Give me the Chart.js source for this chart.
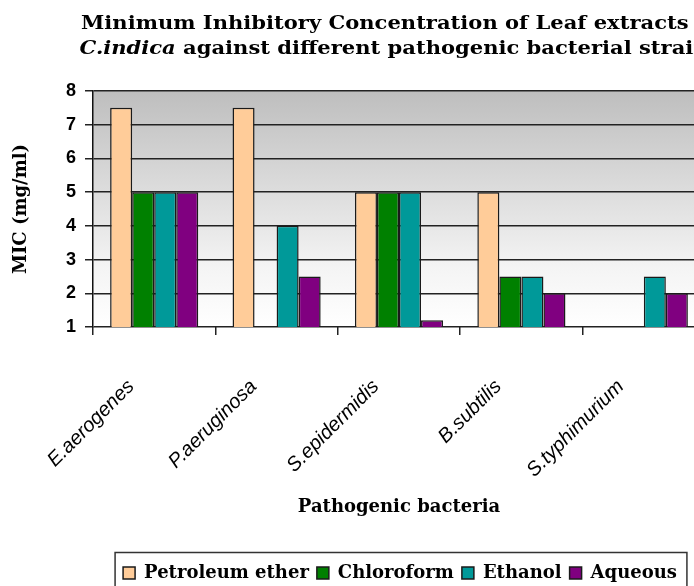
<!DOCTYPE html>
<html>
<head>
<meta charset="utf-8">
<script src="https://cdn.jsdelivr.net/npm/chart.js@4.4.0/dist/chart.umd.min.js"></script>
<style>
  html, body { margin: 0; padding: 0; overflow: hidden; background: #fff; }
  #wrap { width: 800px; height: 592px; position: relative; }
</style>
</head>
<body>
<div id="wrap"><canvas id="myChart"></canvas></div>
<script>
// data
var bacteria = ['E.aerogenes', 'P.aeruginosa', 'S.epidermidis', 'B.subtilis', 'S.typhimurium'];
var petroleumEther = [7.5, 7.5, 5, 5, null];
var chloroform = [5, null, 5, 2.5, null];
var ethanol = [5, 4, 5, 2.5, 2.5];
var aqueous = [5, 2.5, 1.2, 2, 2];
var yTicks = [1, 2, 3, 4, 5, 6, 7, 8];

var serif = '"DejaVu Serif", "Liberation Serif", serif';
var sans = '"Liberation Sans", Arial, sans-serif';
var titleLine1 = 'Minimum Inhibitory Concentration of Leaf extracts of';
var titleItalic = 'C.indica';
var titleRest = ' against different pathogenic bacterial strains';
var titlePadTop = 12;
var titleLineH = 25;
var titleStretch = 1.17;   // the original face (Bookman-like) is wider than DejaVu

// grey-to-white fill behind the plot
var plotBackground = {
    id: 'plotBackground',
    beforeDraw: function (chart) {
        var a = chart.chartArea, ctx = chart.ctx;
        var g = ctx.createLinearGradient(0, a.top, 0, a.bottom);
        g.addColorStop(0, '#bebebe');
        g.addColorStop(0.75, '#f4f4f4');
        g.addColorStop(1, '#ffffff');
        ctx.save();
        ctx.fillStyle = g;
        ctx.fillRect(a.left, a.top, a.right - a.left, a.bottom - a.top);
        ctx.restore();
    }
};

function drawLine(ctx, parts, cx, y) {
    var total = 0;
    parts.forEach(function (p) { ctx.font = p.font; p.w = ctx.measureText(p.text).width; total += p.w; });
    ctx.save();
    ctx.translate(cx, y);
    ctx.scale(titleStretch, 1);
    var x = -total / 2;
    parts.forEach(function (p) { ctx.font = p.font; ctx.fillText(p.text, x, 0); x += p.w; });
    ctx.restore();
}

// visible title (with the italic species name) and a frame round the legend
var extras = {
    id: 'extras',
    afterDraw: function (chart) {
        var ctx = chart.ctx;
        var bold = 'bold 18px ' + serif;
        var boldIt = 'italic bold 18px ' + serif;
        var tb = chart.titleBlock;
        var cx = (tb.left + tb.right) / 2;
        var y0 = tb.top + titlePadTop + titleLineH / 2;
        ctx.save();
        ctx.fillStyle = '#000';
        ctx.textBaseline = 'middle';
        ctx.textAlign = 'left';
        drawLine(ctx, [{ text: titleLine1, font: bold }], cx, y0);
        drawLine(ctx, [{ text: titleItalic, font: boldIt }, { text: titleRest, font: bold }], cx, y0 + titleLineH);

        var boxes = chart.legend.legendHitBoxes;
        var minX = Infinity, maxX = -Infinity;
        boxes.forEach(function (b) {
            minX = Math.min(minX, b.left);
            maxX = Math.max(maxX, b.left + b.width);
        });
        ctx.strokeStyle = '#333';
        ctx.lineWidth = 1.5;
        ctx.strokeRect(minX - 8, chart.legend.top - 3.5, maxX - minX + 18, 60);
        ctx.restore();
    }
};

var ctx = document.getElementById('myChart').getContext('2d');
var myChart = new Chart(ctx, {
    type: 'bar',
    data: {
        labels: bacteria,
        datasets: [{
            label: 'Petroleum ether',
            data: petroleumEther,
            backgroundColor: '#ffcc99'
        }, {
            label: 'Chloroform',
            data: chloroform,
            backgroundColor: '#008000'
        }, {
            label: 'Ethanol',
            data: ethanol,
            backgroundColor: '#009999'
        }, {
            label: 'Aqueous',
            data: aqueous,
            backgroundColor: '#800080'
        }]
    },
    options: {
        responsive: true,
        maintainAspectRatio: false,
        animation: false,
        layout: { padding: 0 },
        datasets: {
            bar: {
                borderColor: '#1a1a1a',
                borderWidth: 1.5,
                categoryPercentage: 0.72,
                barPercentage: 1
            }
        },
        plugins: {
            title: {
                display: true,
                text: [titleLine1, titleItalic + titleRest],
                color: 'rgba(0,0,0,0)',   // painted again by the extras plugin
                font: { family: serif, size: 18, weight: 'bold', lineHeight: titleLineH / 18 },
                padding: { top: titlePadTop, bottom: 29 }
            },
            legend: {
                position: 'bottom',
                labels: {
                    color: '#000',
                    font: { family: serif, size: 18, weight: 'bold' },
                    boxWidth: 12,
                    boxHeight: 12,
                    padding: 8
                }
            },
            tooltip: { enabled: false }
        },
        scales: {
            x: {
                grid: {
                    display: true,
                    drawOnChartArea: false,
                    tickLength: 8,
                    color: '#222',
                    lineWidth: 1.5
                },
                border: { display: false },
                ticks: {
                    color: '#000',
                    font: { family: sans, size: 20, style: 'italic' },
                    minRotation: 45,
                    maxRotation: 45,
                    autoSkip: false,
                    padding: 40,
                    labelOffset: -23
                },
                title: {
                    display: true,
                    text: 'Pathogenic bacteria',
                    color: '#000',
                    font: { family: serif, size: 18, weight: 'bold' },
                    padding: { top: 0, bottom: 38 }
                },
                afterFit: function (scale) { scale.height = 229; }
            },
            y: {
                min: 1,
                max: 8,
                afterBuildTicks: function (scale) {
                    scale.ticks = yTicks.map(function (v) { return { value: v }; });
                },
                grid: {
                    color: '#222',
                    lineWidth: 1.5,
                    tickLength: 8
                },
                border: { display: true, color: '#111', width: 1.5 },
                ticks: {
                    color: '#000',
                    font: { family: sans, size: 18, weight: 'bold' },
                    padding: 9
                },
                title: {
                    display: true,
                    text: 'MIC (mg/ml)',
                    color: '#000',
                    font: { family: serif, size: 18, weight: 'bold' },
                    padding: { top: 11, bottom: 0 }
                },
                afterFit: function (scale) { scale.width = 93; }
            },
            // empty strip on the right: the plot runs past the picture's edge
            yRight: {
                position: 'right',
                min: 1,
                max: 8,
                grid: { display: false },
                border: { display: false },
                ticks: { display: false },
                afterFit: function (scale) { scale.width = 95; }
            }
        }
    },
    plugins: [plotBackground, extras]
});
</script>
</body>
</html>
